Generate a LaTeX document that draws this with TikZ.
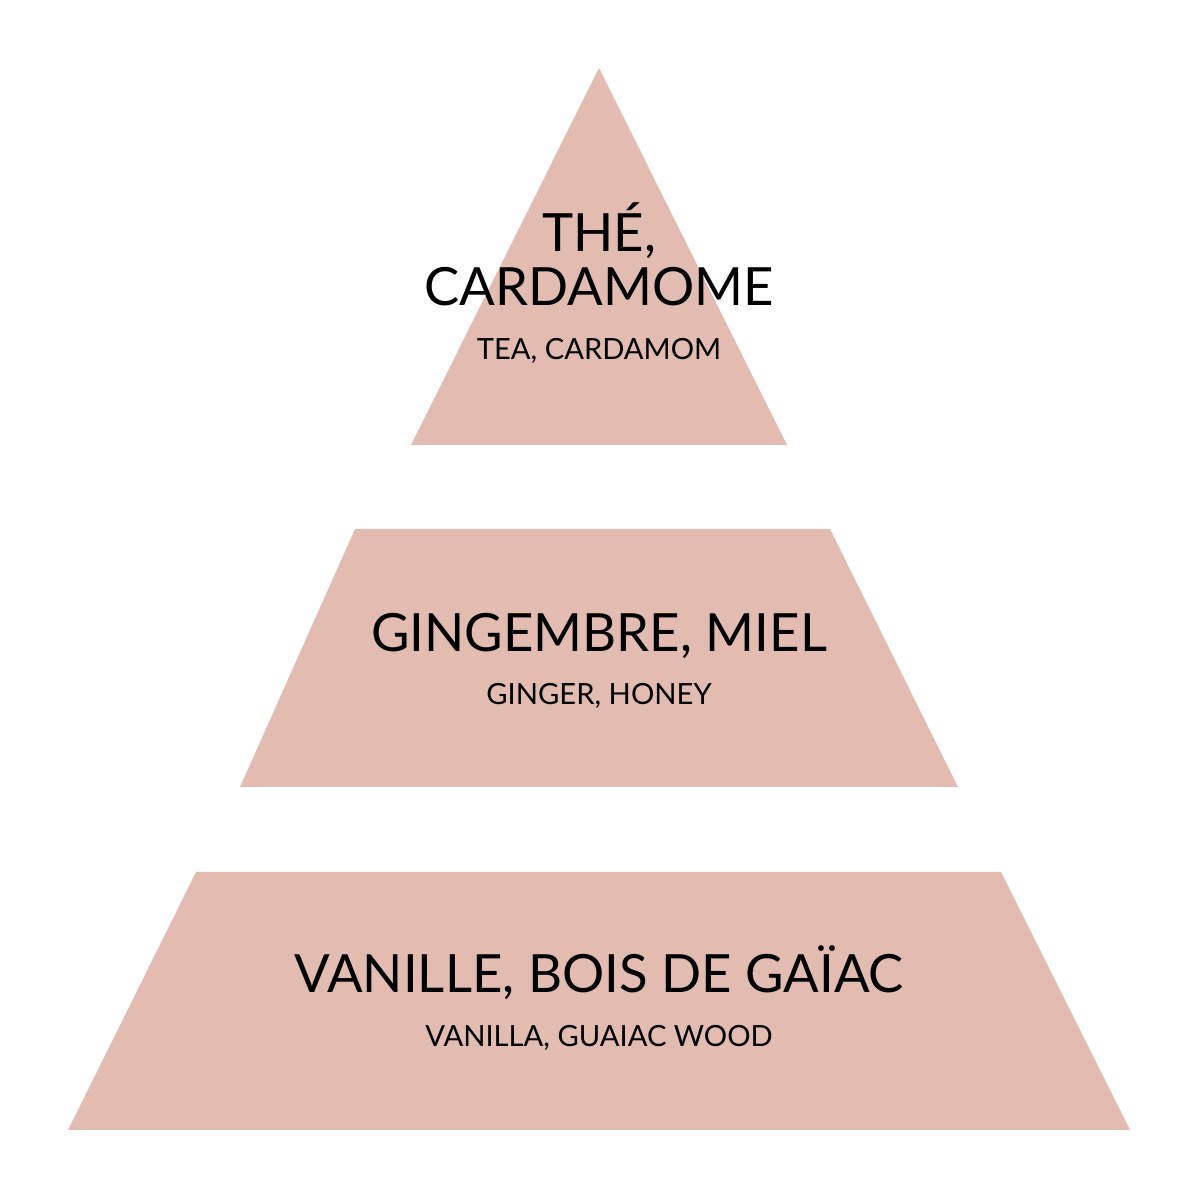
\documentclass[tikz,border=0pt]{standalone}
\usepackage{fontspec}
\setmainfont{Lato}
\usetikzlibrary{positioning}
\definecolor{rosepale}{HTML}{E2BCB1}
\tikzset{
  tier/.style={fill=rosepale, draw=none},
  fr/.style={font=\fontsize{15}{18}\selectfont, anchor=base, inner sep=0pt},
  en/.style={font=\fontsize{8.3}{10}\selectfont, anchor=base, inner sep=0pt},
}
\begin{document}
\begin{tikzpicture}
\useasboundingbox (0,0) rectangle (12,12);
\fill[tier] (5.99,11.32)--(7.87,7.55)--(4.11,7.55)--cycle;
\fill[tier] (3.55,6.71)--(8.30,6.71)--(9.58,4.13)--(2.40,4.13)--cycle;
\fill[tier] (1.96,3.28)--(10.01,3.28)--(11.30,0.70)--(0.68,0.70)--cycle;
\node[fr] at(5.99,9.48)(top1) {THÉ,};
\node[fr] at(5.99,8.94)(top2) {CARDAMOME};
\node[en] at(5.99,8.40)(top3) {TEA, CARDAMOM};
\node[fr] at(5.99,5.48)(mid1) {GINGEMBRE, MIEL};
\node[en] at(5.99,4.95)(mid2) {GINGER, HONEY};
\node[fr] at(5.99,2.07)(base1) {VANILLE, BOIS DE GAÏAC};
\node[en] at(5.99,1.53)(base2) {VANILLA, GUAIAC WOOD};
\end{tikzpicture}
\end{document}
